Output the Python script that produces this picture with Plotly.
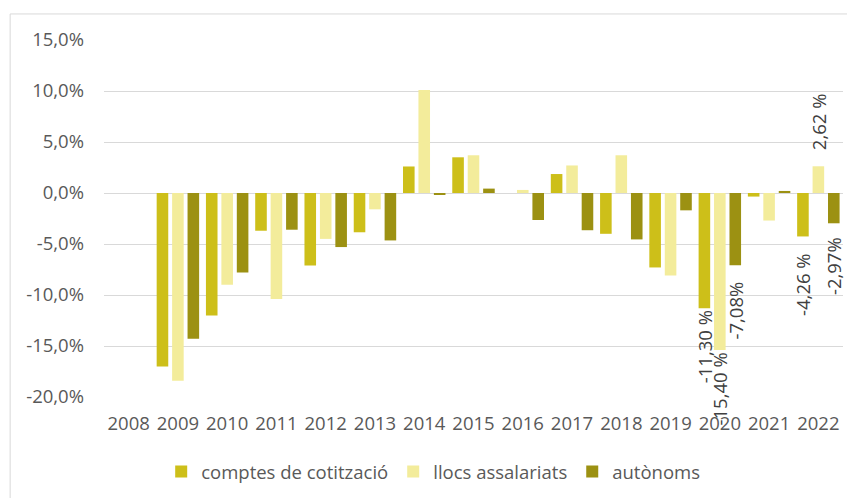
import plotly.graph_objects as go

years = [str(y) for y in range(2008, 2023)]
comptes = [None, -17.0, -12.0, -3.7, -7.1, -3.85, 2.6, 3.5, 0.0, 1.86, -4.0, -7.3, -11.30, -0.35, -4.26]
llocs = [None, -18.4, -9.0, -10.4, -4.5, -1.6, 10.1, 3.7, 0.3, 2.7, 3.7, -8.1, -15.40, -2.7, 2.62]
autonoms = [None, -14.3, -7.8, -3.6, -5.3, -4.65, -0.15, 0.43, -2.65, -3.65, -4.55, -1.7, -7.08, 0.2, -2.97]

series_names = ["comptes de cotització", "llocs assalariats", "autònoms"]
colors = ["#CDBF19", "#F3EC9B", "#9C9112"]
y_ticks = [15, 10, 5, 0, -5, -10, -15, -20]
y_tick_text = ["15,0%", "10,0%", "5,0%", "0,0%", "-5,0%", "-10,0%", "-15,0%", "-20,0%"]

# data labels: (series index, year, value, text)
labels = [
    (0, "2020", -11.30, "-11,30 %"),
    (1, "2020", -15.40, "-15,40 %"),
    (2, "2020", -7.08, "-7,08%"),
    (0, "2022", -4.26, "-4,26 %"),
    (1, "2022", 2.62, "2,62 %"),
    (2, "2022", -2.97, "-2,97%"),
]
label_gap = [0, 0, 14, 14, 14, 12]

FONT = "Open Sans"
FS = 18.5
fig = go.Figure()
for name, vals, col in zip(series_names, [comptes, llocs, autonoms], colors):
    fig.add_trace(go.Bar(x=years, y=vals, name=name, marker=dict(color=col, line=dict(width=0))))

bar_offsets = [-15.4, 0, 15.4]
annotations = []
for (si, yr, v, t), g in zip(labels, label_gap):
    annotations.append(dict(
        x=years.index(yr), y=v, xref="x", yref="y", text=t, showarrow=False, textangle=-90,
        xshift=bar_offsets[si],
        yanchor="top" if v < 0 else "bottom",
        yshift=-g if v < 0 else g,
        font=dict(family=FONT, size=FS, color="#404040"),
    ))

fig.update_layout(
    width=847, height=490,
    margin=dict(l=96, r=12, t=32, b=101, autoexpand=False),
    paper_bgcolor="white", plot_bgcolor="white",
    barmode="group", bargap=0.06, bargroupgap=0.25,
    font=dict(family=FONT, size=FS, color="#595959"),
    xaxis=dict(type="category", range=[-0.5, len(years) - 0.5], autorange=False,
               showgrid=False, showline=False, ticks="", ticklabelstandoff=13,
               tickfont=dict(size=FS, color="#595959")),
    yaxis=dict(range=[-20, 15], autorange=False, tickvals=y_ticks, ticktext=y_tick_text,
               showgrid=True, gridcolor="#D9D9D9", gridwidth=1,
               zeroline=True, zerolinecolor="#D9D9D9", zerolinewidth=1,
               showline=False, ticks="", ticklen=0, ticklabelstandoff=19,
               tickfont=dict(size=FS, color="#595959")),
    legend=dict(orientation="h", xref="container", yref="container",
                x=0.502, xanchor="center", y=0.053, yanchor="middle",
                font=dict(size=FS, color="#595959"), itemwidth=30,
                traceorder="normal"),
    annotations=annotations,
    shapes=[dict(type="rect", xref="paper", yref="paper",
                 x0=-0.127, x1=1.05, y0=-0.35, y1=1.073,
                 line=dict(color="#D9D9D9", width=1), layer="below")],
)

fig.write_html("out.html")
